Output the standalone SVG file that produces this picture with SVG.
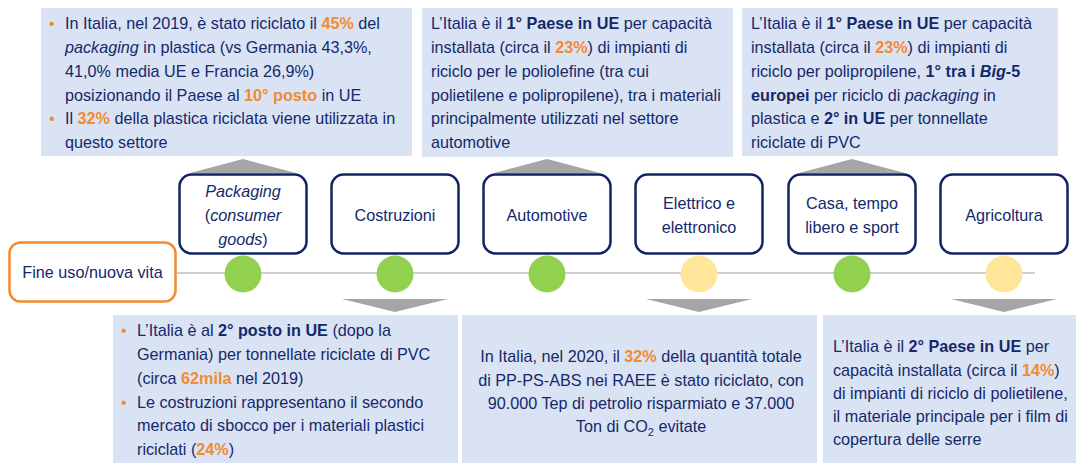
<svg xmlns="http://www.w3.org/2000/svg" width="1078" height="466" viewBox="0 0 1078 466">
<style>
text{font-family:"Liberation Sans",Arial,sans-serif;font-size:16.2px;fill:#14296b}
.info{fill:#dae3f3}
.node{fill:#fff;stroke:#0f2462;stroke-width:2.5}
.start{fill:#fff;stroke:#f28a2e;stroke-width:2.5}
.o{fill:#f28a2e;font-weight:bold}
.b{font-weight:bold}
.i{font-style:italic}
.bul{fill:#f28a2e}
.g{fill:#92d050}
.y{fill:#ffe699}
.tri{fill:#a6a6a6}
.c{text-anchor:middle}
</style>
<g id="connectors">
<line x1="177" y1="273" x2="1035" y2="273" stroke="#a0a0a0" stroke-width="1.2"/>
<polygon class="tri" points="190,173 296,173 243,159"/>
<polygon class="tri" points="494,173 600,173 547,159"/>
<polygon class="tri" points="799,173 905,173 852,159"/>
<polygon class="tri" points="342,299 448,299 395,312"/>
<polygon class="tri" points="646,299 752,299 699,312"/>
<polygon class="tri" points="951,299 1057,299 1004,312"/>
</g>
<g id="info-packaging">
<rect class="info" x="41" y="8" width="371" height="148"/>
<text x="49" y="29" class="bul">•</text>
<text x="65" y="29">In Italia, nel 2019, è stato riciclato il <tspan class="o">45%</tspan> del</text>
<text x="65" y="53"><tspan class="i">packaging</tspan> in plastica (vs Germania 43,3%,</text>
<text x="65" y="77">41,0% media UE e Francia 26,9%)</text>
<text x="65" y="100.5">posizionando il Paese al <tspan class="o">10° posto</tspan> in UE</text>
<text x="49" y="124" class="bul">•</text>
<text x="65" y="124">Il <tspan class="o">32%</tspan> della plastica riciclata viene utilizzata in</text>
<text x="65" y="148">questo settore</text>
</g>
<g id="info-automotive">
<rect class="info" x="422" y="8" width="311" height="149"/>
<text x="431" y="29">L’Italia è il <tspan class="b">1° Paese in UE</tspan> per capacità</text>
<text x="431" y="53">installata (circa il <tspan class="o">23%</tspan>) di impianti di</text>
<text x="431" y="77">riciclo per le poliolefine (tra cui</text>
<text x="431" y="100.5">polietilene e polipropilene), tra i materiali</text>
<text x="431" y="124">principalmente utilizzati nel settore</text>
<text x="431" y="148">automotive</text>
</g>
<g id="info-casa">
<rect class="info" x="742" y="8" width="316" height="148"/>
<text x="751" y="29">L’Italia è il <tspan class="b">1° Paese in UE</tspan> per capacità</text>
<text x="751" y="53">installata (circa il <tspan class="o">23%</tspan>) di impianti di</text>
<text x="751" y="77">riciclo per polipropilene, <tspan class="b">1° tra i </tspan><tspan class="b i">Big</tspan><tspan class="b">-5</tspan></text>
<text x="751" y="100.5"><tspan class="b">europei</tspan> per riciclo di <tspan class="i">packaging</tspan> in</text>
<text x="751" y="124">plastica e <tspan class="b">2° in UE</tspan> per tonnellate</text>
<text x="751" y="148">riciclate di PVC</text>
</g>
<g id="info-costruzioni">
<rect class="info" x="113" y="315" width="345" height="148"/>
<text x="121" y="336" class="bul">•</text>
<text x="137" y="336">L’Italia è al <tspan class="b">2° posto in UE</tspan> (dopo la</text>
<text x="137" y="360">Germania) per tonnellate riciclate di PVC</text>
<text x="137" y="384">(circa <tspan class="o">62mila</tspan> nel 2019)</text>
<text x="121" y="407.5" class="bul">•</text>
<text x="137" y="407.5">Le costruzioni rappresentano il secondo</text>
<text x="137" y="431">mercato di sbocco per i materiali plastici</text>
<text x="137" y="455">riciclati (<tspan class="o">24%</tspan>)</text>
</g>
<g id="info-elettrico">
<rect class="info" x="462" y="315" width="355" height="148"/>
<text x="641" y="362" class="c">In Italia, nel 2020, il <tspan class="o">32%</tspan> della quantità totale</text>
<text x="641" y="385.5" class="c">di PP-PS-ABS nei RAEE è stato riciclato, con</text>
<text x="641" y="409" class="c">90.000 Tep di petrolio risparmiato e 37.000</text>
<text x="641" y="432" class="c">Ton di CO<tspan dy="4" font-size="11">2</tspan><tspan dy="-4"> evitate</tspan></text>
</g>
<g id="info-agricoltura">
<rect class="info" x="823" y="315" width="253" height="148"/>
<text x="833" y="352">L’Italia è il <tspan class="b">2° Paese in UE</tspan> per</text>
<text x="833" y="375.5">capacità installata (circa il <tspan class="o">14%</tspan>)</text>
<text x="833" y="398.5">di impianti di riciclo di polietilene,</text>
<text x="833" y="422">il materiale principale per i film di</text>
<text x="833" y="445">copertura delle serre</text>
</g>
<g id="fine-uso">
<rect class="start" x="9.5" y="242.5" width="166" height="59" rx="11"/>
<text x="92.5" y="278" class="c" font-size="16">Fine uso/nuova vita</text>
</g>
<g id="node-packaging">
<rect class="node" x="179.5" y="174.5" width="127" height="79" rx="12"/>
<text x="243" y="197" class="c"><tspan class="i">Packaging</tspan></text>
<text x="243" y="221" class="c">(<tspan class="i">consumer</tspan></text>
<text x="243" y="245" class="c"><tspan class="i">goods</tspan>)</text>
<circle class="g" cx="243" cy="274" r="18.5"/>
</g>
<g id="node-costruzioni">
<rect class="node" x="331.5" y="174.5" width="127" height="79" rx="12"/>
<text x="395" y="221" class="c">Costruzioni</text>
<circle class="g" cx="395" cy="274" r="18.5"/>
</g>
<g id="node-automotive">
<rect class="node" x="483.5" y="174.5" width="127" height="79" rx="12"/>
<text x="547" y="221" class="c">Automotive</text>
<circle class="g" cx="547" cy="274" r="18.5"/>
</g>
<g id="node-elettrico">
<rect class="node" x="635.5" y="174.5" width="127" height="79" rx="12"/>
<text x="699" y="209" class="c">Elettrico e</text>
<text x="699" y="233" class="c">elettronico</text>
<circle class="y" cx="699" cy="274" r="18.5"/>
</g>
<g id="node-casa">
<rect class="node" x="788.5" y="174.5" width="127" height="79" rx="12"/>
<text x="852" y="209" class="c">Casa, tempo</text>
<text x="852" y="233" class="c">libero e sport</text>
<circle class="g" cx="852" cy="274" r="18.5"/>
</g>
<g id="node-agricoltura">
<rect class="node" x="940.5" y="174.5" width="127" height="79" rx="12"/>
<text x="1004" y="221" class="c">Agricoltura</text>
<circle class="y" cx="1004" cy="274" r="18.5"/>
</g>
</svg>
